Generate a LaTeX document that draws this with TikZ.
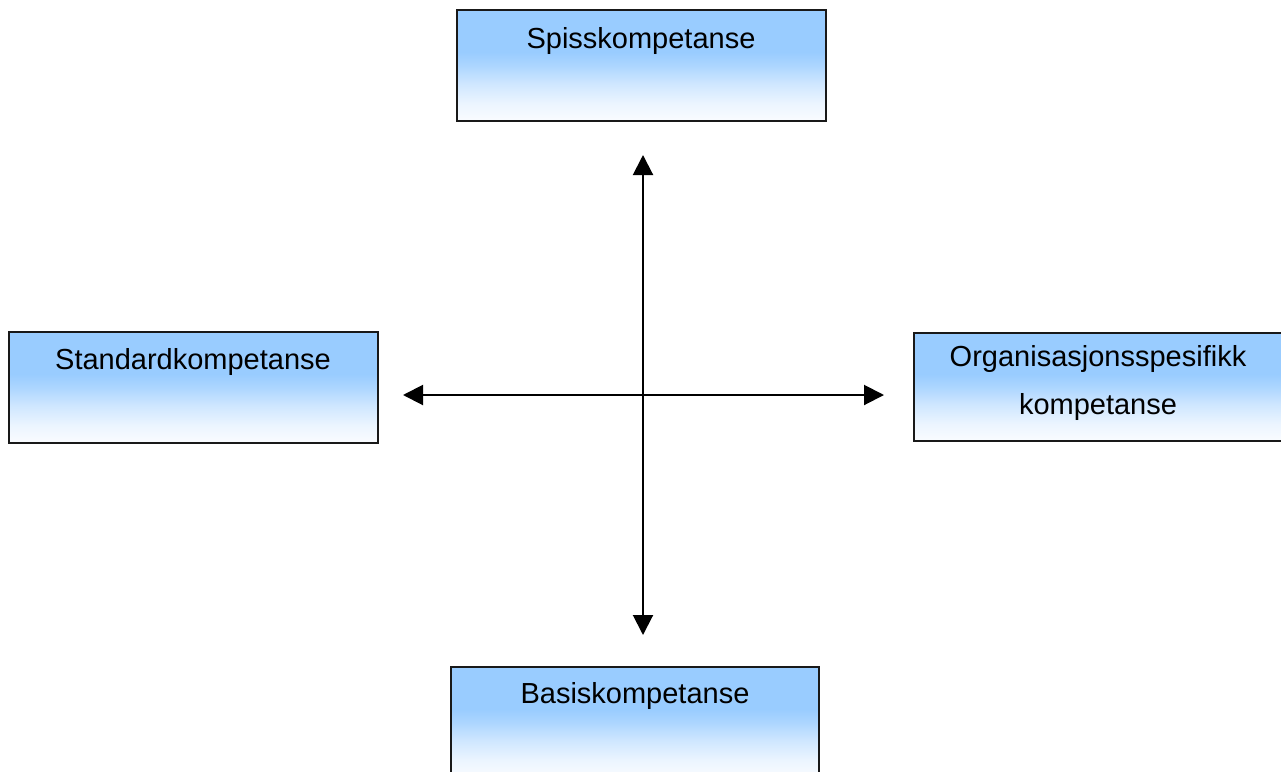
\documentclass[tikz,border=0pt]{standalone}
\usepackage{fontspec}
\setmainfont{Liberation Sans}
\usetikzlibrary{arrows.meta}
\definecolor{boxblue}{HTML}{99CCFF}
\definecolor{boxwhite}{HTML}{FAFCFF}
% vertical shading: the box spans 25bp (bottom) to 75bp (top)
\pgfdeclareverticalshading{compshade}{100bp}{%
  color(0bp)=(boxwhite); color(25bp)=(boxwhite); color(33bp)=(boxwhite!85!boxblue);
  color(42bp)=(boxwhite!55!boxblue); color(50bp)=(boxwhite!20!boxblue); color(56bp)=(boxblue);
  color(100bp)=(boxblue)}
\tikzset{
  compbox/.style={draw=black!90, line width=2pt, shading=compshade, inner sep=0pt},
  label text/.style={font=\fontsize{29}{48}\selectfont, align=center, inner sep=0pt, text=black},
  axis arrow/.style={line width=2pt, {Triangle[length=20pt,width=20pt]}-{Triangle[length=20pt,width=20pt]}}
}
\begin{document}
\begin{tikzpicture}[x=1pt,y=-1pt]
  \useasboundingbox (0,0) rectangle (1281,771);
  \begin{scope}
    \clip (0,0) rectangle (1281,771);
    % competence boxes
    \node[compbox, minimum width=369pt, minimum height=111pt] (top) at (641.5,65.5) {};
    \node[compbox, minimum width=369pt, minimum height=111pt] (left) at (193.5,387.5) {};
    \node[compbox, minimum width=368pt, minimum height=108pt] (right) at (1098,387) {};
    \node[compbox, minimum width=368pt, minimum height=111pt] (bottom) at (635,722.5) {};
  \end{scope}
  % box captions
  \node[label text] (toptext) at (641,41) {Spisskompetanse};
  \node[label text] (lefttext) at (193,362) {Standardkompetanse};
  \node[label text, anchor=north] (righttext) at (1098,345) {Organisasjonsspesifikk\\kompetanse};
  \node[label text] (bottomtext) at (635,696) {Basiskompetanse};
  % arrow end points
  \coordinate (n) at (643,155);
  \coordinate (s) at (643,635);
  \coordinate (w) at (403,395);
  \coordinate (e) at (884,395);
  \draw[axis arrow] (n) -- (s);
  \draw[axis arrow] (w) -- (e);
\end{tikzpicture}
\end{document}
